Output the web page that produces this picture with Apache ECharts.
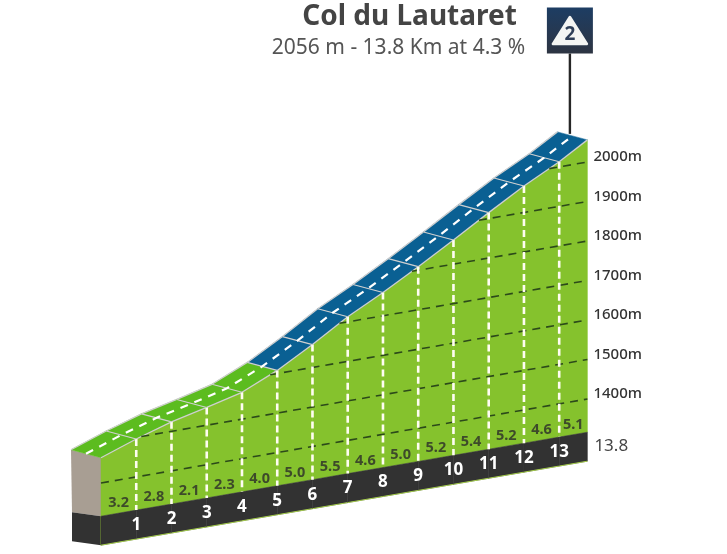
<!DOCTYPE html>
<html>
<head>
<meta charset="utf-8">
<style>html,body{margin:0;padding:0;background:#fff}#chart{width:727px;height:554px}</style>
<script src="https://cdn.jsdelivr.net/npm/echarts@6/dist/echarts.min.js"></script>
</head>
<body>
<div id="chart"></div>
<script>
// Climb profile: Col du Lautaret
const climbName = 'Col du Lautaret';
const climbSummary = '2056 m - 13.8 Km at 4.3 %';
const categoryLabel = '2';
const kmMarks = [0, 1, 2, 3, 4, 5, 6, 7, 8, 9, 10, 11, 12, 13, 13.8];
const altitudes = [1464, 1496, 1524, 1545, 1568, 1608, 1658, 1713, 1759, 1809, 1861, 1915, 1967, 2013, 2056];
const grades = [3.2, 2.8, 2.1, 2.3, 4.0, 5.0, 5.5, 4.6, 5.0, 5.2, 5.4, 5.2, 4.6, 5.1];
const altitudeTicks = [1400, 1500, 1600, 1700, 1800, 1900, 2000];

const totalKm = kmMarks[kmMarks.length - 1];
const summitAlt = altitudes[altitudes.length - 1];
const floorAlt = 1316;

// Oblique projection: the floor rises to the right, the road surface has depth.
const shearPerKm = 6.087;
const roadDepth = [-30, -8];
const baseDepth = [-29, -4];
const bandHeight = 29;

const FACE = '#85c22d', BAND = '#323232', TAUPE = '#a89e93';
const LIME = '#5cbc1f', BLUE = '#0a6093', EDGE = '#cfcfcf';
const FONT = '"Noto Sans", sans-serif';

function project(api, km, alt) {
  const p = api.coord([km, alt]);
  return [p[0], p[1] + (totalKm - km) * shearPerKm];
}
const shift = (p, d) => [p[0] + d[0], p[1] + d[1]];
const poly = (points, style) => ({ type: 'polygon', shape: { points }, style });
const line = (a, b, style) => ({ type: 'line', shape: { x1: a[0], y1: a[1], x2: b[0], y2: b[1] }, style });

// Road surface turns blue once the gradient goes above 4 %.
function roadColor(grade) { return grade <= 4 ? LIME : BLUE; }

// Distance along the profile where it first reaches a given level.
function kmAtAltitude(level) {
  if (level <= altitudes[0]) return 0;
  for (let i = 1; i < altitudes.length; i++) {
    if (altitudes[i] >= level) {
      const t = (level - altitudes[i - 1]) / (altitudes[i] - altitudes[i - 1]);
      return kmMarks[i - 1] + t * (kmMarks[i] - kmMarks[i - 1]);
    }
  }
  return totalKm;
}

const segments = grades.map((g, i) => [kmMarks[i], kmMarks[i + 1], altitudes[i], altitudes[i + 1], g]);
const kmLabels = kmMarks.slice(1, -1).map((k, i) => [k, altitudes[i + 1]]);

function renderSegment(params, api) {
  const k0 = api.value(0), k1 = api.value(1), a0 = api.value(2), a1 = api.value(3), g = api.value(4);
  const t0 = project(api, k0, a0), t1 = project(api, k1, a1);
  const b0 = project(api, k0, floorAlt), b1 = project(api, k1, floorAlt);
  const d0 = [b0[0], b0[1] + bandHeight], d1 = [b1[0], b1[1] + bandHeight];
  const r0 = shift(t0, roadDepth), r1 = shift(t1, roadDepth);
  const children = [
    poly([t0, t1, b1, b0], { fill: FACE, stroke: FACE, lineWidth: 0.5 }),
    poly([b0, b1, d1, d0], { fill: BAND, stroke: BAND, lineWidth: 0.5 }),
    line(d0, d1, { stroke: '#a4cc4a', lineWidth: 1 }),
    poly([r0, r1, t1, t0], { fill: roadColor(g), stroke: roadColor(g), lineWidth: 0.5 }),
    line(r0, r1, { stroke: EDGE, lineWidth: 1.3 }),
    line(t0, t1, { stroke: EDGE, lineWidth: 1.3 })
  ];
  if (k0 === 0) {
    // End cap of the block at the foot of the climb.
    const sideTop = shift(b0, baseDepth);
    const sideLow = shift(d0, baseDepth);
    children.unshift(
      poly([r0, t0, b0, sideTop], { fill: TAUPE }),
      poly([sideTop, b0, d0, sideLow], { fill: BAND }),
      line(b0, d0, { stroke: '#8fbf35', lineWidth: 1 })
    );
  }
  return { type: 'group', children };
}

function renderAltitudeLine(params, api) {
  const level = api.value(0);
  const a = project(api, kmAtAltitude(level), level);
  const b = project(api, totalKm, level);
  return line(a, b, { stroke: '#2c4a1a', lineWidth: 1.6, lineDash: [8, 6] });
}

function renderKmMark(params, api) {
  const k = api.value(0), alt = api.value(1);
  const top = project(api, k, alt), low = project(api, k, floorAlt);
  return {
    type: 'group',
    children: [
      line(top, low, { stroke: '#fffdf2', lineWidth: 2.6, lineDash: [7, 4] }),
      line(top, shift(top, roadDepth), { stroke: EDGE, lineWidth: 1.2 })
    ]
  };
}

function renderCentreLine(params, api) {
  const half = [roadDepth[0] / 2, roadDepth[1] / 2];
  const pts = kmMarks.map((k, i) => shift(project(api, k, altitudes[i]), half));
  return { type: 'polyline', shape: { points: pts }, style: { fill: null, stroke: '#fff', lineWidth: 2.2, lineDash: [8, 7] } };
}

function renderGradeLabel(params, api) {
  const k = (api.value(0) + api.value(1)) / 2;
  const p = project(api, k, floorAlt);
  return {
    type: 'text',
    x: p[0], y: p[1] - 10,
    style: { text: api.value(4).toFixed(1), fill: '#3d4a2a', font: 'bold 14.5px ' + FONT, textAlign: 'center', textVerticalAlign: 'middle' }
  };
}

function renderKmNumber(params, api) {
  const k = api.value(0);
  const p = project(api, k, floorAlt);
  return {
    type: 'text',
    x: p[0], y: p[1] + bandHeight / 2 + 0.5,
    style: { text: String(k), fill: '#fff', font: 'bold 17px ' + FONT, textAlign: 'center', textVerticalAlign: 'middle' }
  };
}

function renderDistance(params, api) {
  const p = project(api, api.value(0), floorAlt);
  return {
    type: 'text',
    x: p[0] + 7, y: p[1] + bandHeight / 2 - 1,
    style: { text: String(api.value(0)), fill: '#444', font: '17px ' + FONT, textAlign: 'left', textVerticalAlign: 'middle' }
  };
}

// Summit marker: pole, category plate and triangle badge.
function renderSummit(params, api) {
  const s = shift(project(api, api.value(0), api.value(1)), [roadDepth[0] / 2 - 2.5, roadDepth[1] / 2 - 2]);
  const cx = s[0], plateTop = 7.5, plateSize = 46;
  const tri = [[cx, plateTop + 9.5], [cx + 17, plateTop + 36.5], [cx - 17, plateTop + 36.5]];
  return {
    type: 'group',
    children: [
      line(s, [cx, plateTop + plateSize], { stroke: '#262626', lineWidth: 2.4 }),
      { type: 'rect', shape: { x: cx - plateSize / 2, y: plateTop, width: plateSize, height: plateSize },
        style: { fill: new echarts.graphic.LinearGradient(0, 0, 0, 1, [{ offset: 0, color: '#1d3d63' }, { offset: 1, color: '#2d3442' }]) } },
      poly(tri, { fill: '#f4f5f3', stroke: '#f4f5f3', lineWidth: 2.5, lineJoin: 'round' }),
      { type: 'text', x: cx, y: plateTop + 27.5,
        style: { text: categoryLabel, fill: '#2f3f58', font: 'bold 19px ' + FONT, textAlign: 'center', textVerticalAlign: 'middle' } }
    ]
  };
}

const custom = (renderItem, data) => ({ type: 'custom', renderItem, data, silent: true, clip: false, animation: false });

const chart = echarts.init(document.getElementById('chart'), null, { renderer: 'canvas' });
chart.setOption({
  animation: false,
  backgroundColor: '#fff',
  title: [
    { text: climbName, left: 404.5, top: -2, textAlign: 'center',
      textStyle: { fontFamily: FONT, fontWeight: 'bold', fontSize: 28, color: '#444' } },
    { text: climbSummary, left: 393.5, top: 33, textAlign: 'center',
      textStyle: { fontFamily: FONT, fontWeight: 'normal', fontSize: 21, color: '#555' } }
  ],
  grid: { left: 101, width: 486.4, top: 122.5, height: 316 },
  xAxis: { type: 'value', min: 0, max: totalKm, show: false },
  yAxis: {
    type: 'value', position: 'right', min: 1300, max: 2100, interval: 100,
    axisLine: { show: false }, axisTick: { show: false }, splitLine: { show: false },
    axisLabel: {
      margin: 6, color: '#333', fontSize: 15, fontFamily: FONT, fontWeight: 500,
      verticalAlign: 'bottom', lineHeight: 10, customValues: altitudeTicks,
      formatter: v => v + 'm'
    }
  },
  series: [
    custom(renderSegment, segments),
    custom(renderAltitudeLine, altitudeTicks.map(v => [v])),
    custom(renderKmMark, kmLabels),
    custom(renderCentreLine, [[0]]),
    custom(renderGradeLabel, segments),
    custom(renderKmNumber, kmLabels),
    custom(renderDistance, [[totalKm]]),
    custom(renderSummit, [[totalKm, summitAlt]])
  ]
});
</script>
</body>
</html>
